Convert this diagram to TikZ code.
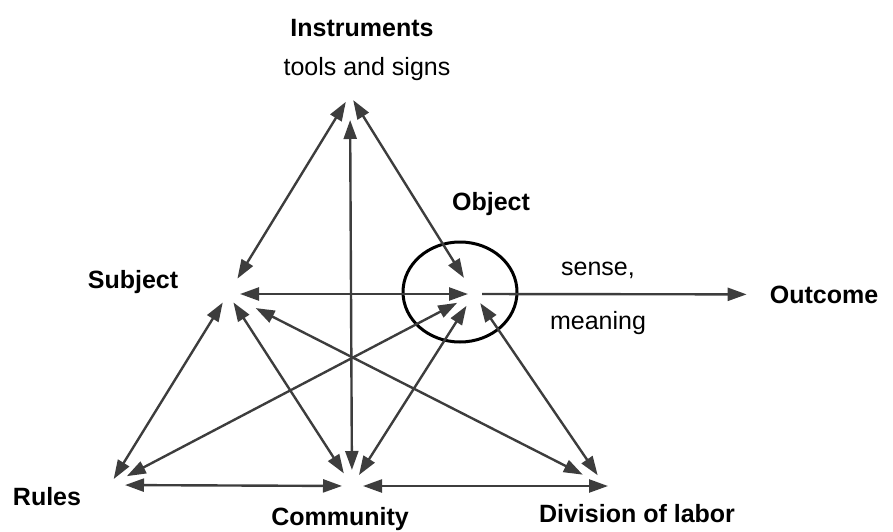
\documentclass[tikz,border=0pt]{standalone}
\usepackage{fontspec}
\setmainfont{Liberation Sans}
\definecolor{linegray}{HTML}{3D3D3D}
\usetikzlibrary{arrows.meta, shapes.geometric}

\begin{document}
\begin{tikzpicture}[
    x=1pt, y=-1pt,
    heading/.style={
        font=\fontsize{25}{30}\selectfont\bfseries,
        anchor=base,
        inner sep=2pt,
    },
    note/.style={
        font=\fontsize{25}{30}\selectfont,
        anchor=base,
        inner sep=2pt,
    },
    objring/.style={
        ellipse,
        draw=black,
        line width=3pt,
        minimum width=114pt,
        minimum height=100pt,
        inner sep=0pt,
    },
    arr/.style={{Triangle[length=19pt,width=13pt]}-{Triangle[length=19pt,width=13pt]}, line width=2.4pt, color=linegray},
    arr1/.style={-{Triangle[length=19pt,width=13pt]}, line width=2.4pt, color=linegray},
]

\useasboundingbox (0,0) rectangle (893,532);

\coordinate (I) at (350,95);
\coordinate (S) at (228,294);
\coordinate (O) at (474,294);
\coordinate (R) at (110,485);
\coordinate (C) at (352,486);
\coordinate (D) at (605,486);

\node[heading] (instr) at (362,37) {Instruments};
\node[note] (tools) at (367,76) {tools and signs};
\node[heading] (obj) at (491,210) {Object};
\node[heading] (subj) at (133,288) {Subject};
\node[note] (sense) at (598,275) {sense,};
\node[note] (meaning) at (598,329) {meaning};
\node[heading] (out) at (824,303) {Outcome};
\node[heading] (rules) at (47,505) {Rules};
\node[heading] (comm) at (340,525) {Community};
\node[heading] (div) at (637,522) {Division of labor};

\node[objring] (ring) at (460,292) {};

\draw[arr, shorten <=18pt, shorten >=8pt] (S) -- (I);
\draw[arr, shorten <=6pt, shorten >=19pt] (I) -- (O);
\draw[arr, shorten <=25pt, shorten >=16pt] (I) -- (C);
\draw[arr, shorten <=12pt, shorten >=6pt] (S) -- (O);
\draw[arr, shorten <=10pt, shorten >=7pt] (S) -- (R);
\draw[arr, shorten <=10pt, shorten >=15pt] (S) -- (C);
\draw[arr, shorten <=31pt, shorten >=25pt] (S) -- (D);
\draw[arr, shorten <=19pt, shorten >=19pt] (O) -- (R);
\draw[arr, shorten <=14pt, shorten >=13pt] (O) -- (C);
\draw[arr, shorten <=11pt, shorten >=13pt] (O) -- (D);
\draw[arr, shorten <=15pt, shorten >=10pt] (R) -- (C);
\draw[arr, shorten <=11pt, shorten >=-3pt] (C) -- (D);

\draw[arr1, shorten <=8pt, shorten >=21pt] (O) -- (out.west);

\end{tikzpicture}
\end{document}
